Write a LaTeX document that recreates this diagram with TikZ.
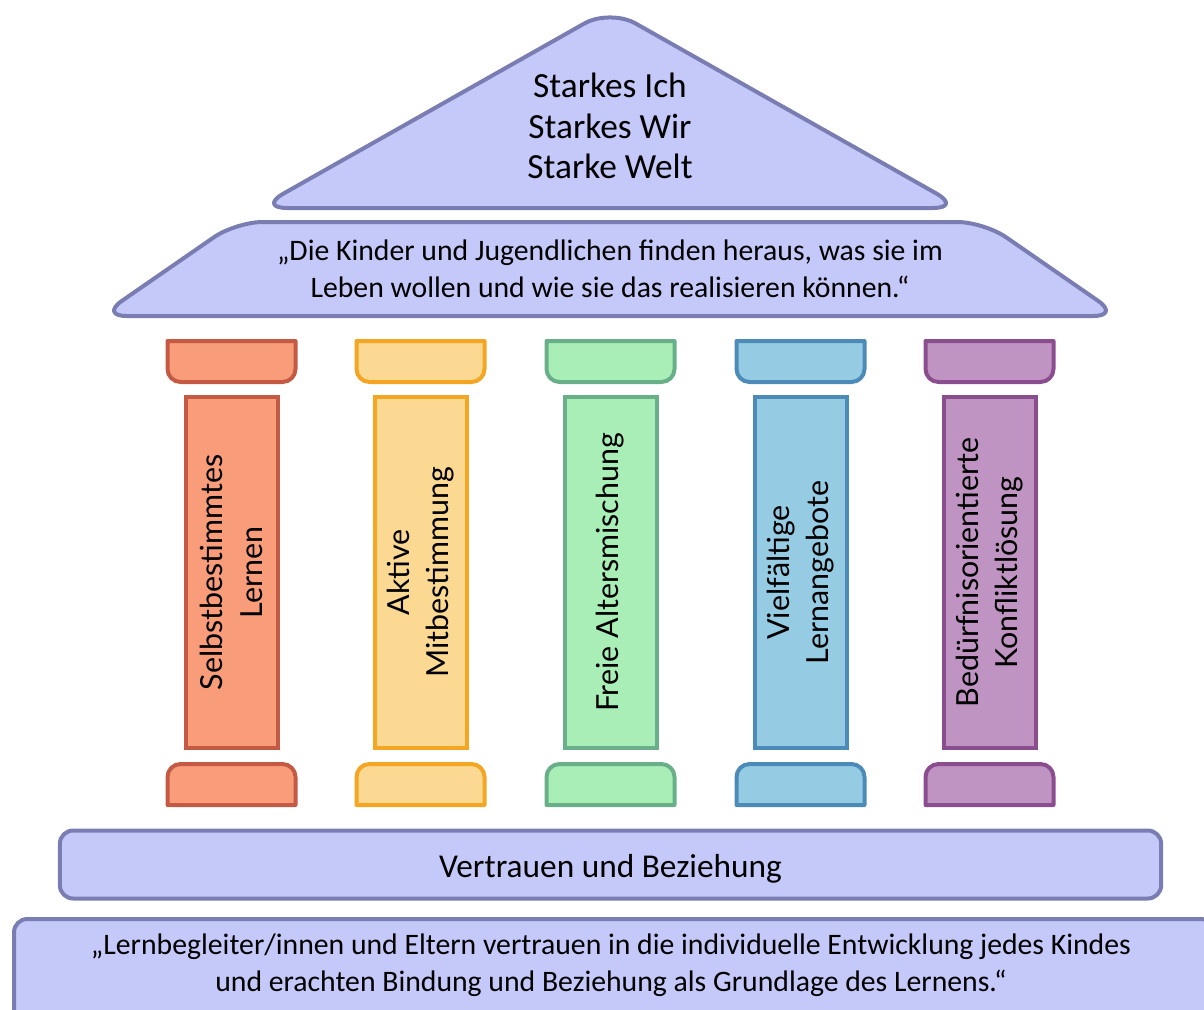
\documentclass[tikz,border=0pt]{standalone}
\usepackage{fontspec}
\setmainfont{Carlito}
\newfontfamily\pillarfont{Lato}
\definecolor{roofF}{HTML}{C4C9FA}
\definecolor{roofD}{HTML}{7A7DB2}
\definecolor{pAf}{HTML}{F89C79}\definecolor{pAd}{HTML}{C55A44}
\definecolor{pBf}{HTML}{FBD993}\definecolor{pBd}{HTML}{F4A522}
\definecolor{pCf}{HTML}{A8EEB6}\definecolor{pCd}{HTML}{68AF8A}
\definecolor{pDf}{HTML}{96CCE3}\definecolor{pDd}{HTML}{4C8BB8}
\definecolor{pEf}{HTML}{BF94C2}\definecolor{pEd}{HTML}{8A4E8E}
\tikzset{
  roof/.style={fill=roofF, draw=roofD, line width=3pt, line join=round},
  shaftbox/.style={rotate=90, line width=3pt, minimum width=263pt, minimum height=69pt,
     inner sep=0pt, align=center, font=\pillarfont\fontsize{22.8}{29.5}\selectfont},
  capline/.style={line width=3pt, line join=round},
  toptext/.style={align=center, font=\fontsize{26.5}{30.5}\selectfont},
  basetextstyle/.style={align=center, font=\fontsize{25}{30}\selectfont},
  midtext/.style={align=center, font=\fontsize{22.3}{27.5}\selectfont},
}
\begin{document}
\begin{tikzpicture}[x=0.75pt, y=-0.75pt]
\useasboundingbox (0,0) rectangle (1204,1010);
% top roof
\draw[roof, rounded corners=22pt] (610,9) -- (962,208) -- (258,208) -- cycle;
\node[toptext] (top) at (610,126) {Starkes Ich\\Starkes Wir\\Starke Welt};
% second roof
\draw[roof, rounded corners=20pt] (236,222) -- (984,222) -- (1120,316) -- (100,316) -- cycle;
\node[midtext] (vision) at (610,269) {„Die Kinder und Jugendlichen finden heraus, was sie im\\Leben wollen und wie sie das realisieren können.“};
% pillars
\foreach \n/\cx/\col/\txt in {1/231.5/pA/{Selbstbestimmtes\\Lernen},
                              2/420.5/pB/{Aktive\\Mitbestimmung},
                              3/610.5/pC/{Freie Altersmischung},
                              4/800.5/pD/{Vielfältige\\Lernangebote},
                              5/989.5/pE/{Bedürfnisorientierte\\Konfliktlösung}}{
  % capital (top) with rounded bottom corners
  \draw[capline, fill=\col f, draw=\col d]
    (\cx-64,341) -- (\cx+64,341) -- (\cx+64,369) arc (0:90:13) -- (\cx-51,382) arc (90:180:13) -- cycle;
  % base with rounded top corners
  \draw[capline, fill=\col f, draw=\col d]
    (\cx-64,805) -- (\cx-64,777) arc (180:270:13) -- (\cx+51,764) arc (270:360:13) -- (\cx+64,805) -- cycle;
  % shaft
  \node[shaftbox, fill=\col f, draw=\col d] (shaft\n) at (\cx,572.5) {\txt};
}
% foundation
\node[draw=roofD, fill=roofF, line width=3pt, rounded corners=10pt, minimum width=826pt, minimum height=51pt]
  (base) at (610.5,864.5) {};
\node[basetextstyle] (basetext) at (610.5,869) {Vertrauen und Beziehung};
\node[draw=roofD, fill=roofF, line width=3pt, rounded corners=10pt, minimum width=900pt, minimum height=84pt]
  (ground) at (614,975) {};
\node[midtext] (groundtext) at (611,965) {„Lernbegleiter/innen und Eltern vertrauen in die individuelle Entwicklung jedes Kindes\\und erachten Bindung und Beziehung als Grundlage des Lernens.“};
\end{tikzpicture}
\end{document}
